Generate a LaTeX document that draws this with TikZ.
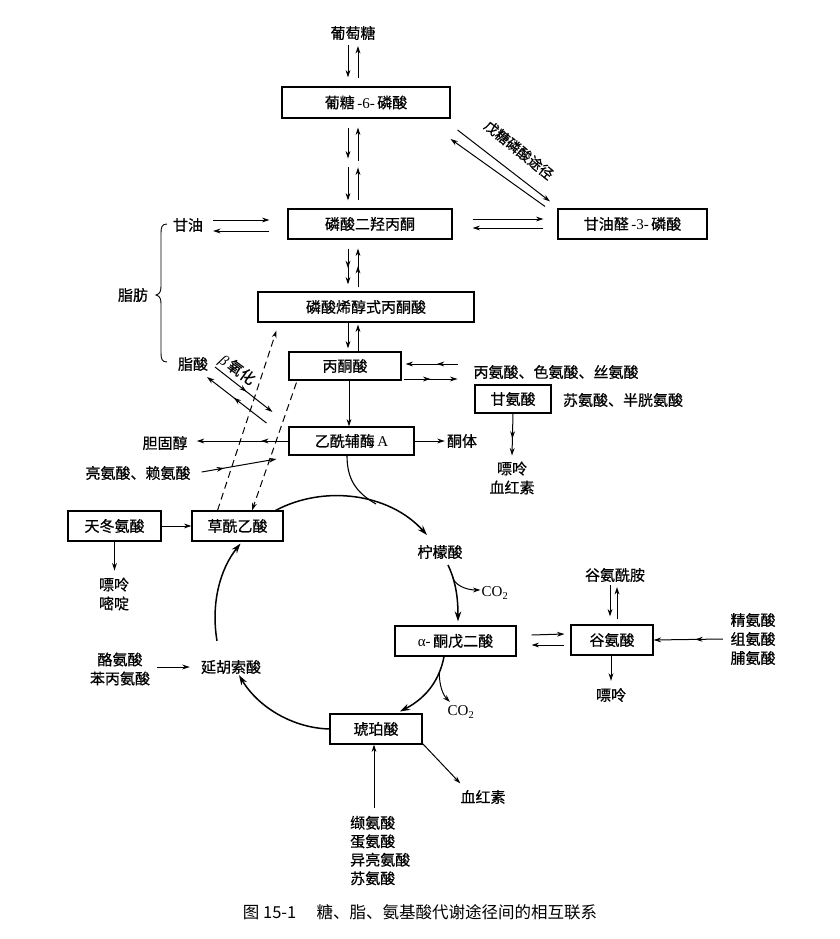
\documentclass[tikz,border=0pt]{standalone}
\usepackage{fontspec}
\setmainfont{Noto Sans CJK SC}[FakeBold=0.6]
\newfontfamily\lat{Liberation Serif}
\newfontfamily\capfont{Noto Sans CJK SC}
\usetikzlibrary{arrows.meta,decorations.markings,calc}
\begin{document}
\begin{tikzpicture}[x=1pt,y=-1pt,
  >={Stealth[length=7.5pt,width=4.8pt]},
  every node/.style={font=\fontsize{15}{19}\selectfont,inner sep=0pt},
  box/.style={draw,line width=1.1pt,minimum height=30pt,inner sep=0pt},
  conn/.style={line width=1pt,->},
  twohead/.style={conn,postaction={decorate},
    decoration={markings,mark=at position #1 with {\arrow{>}}}},
  twohead/.default=0.55,
  cyc/.style={line width=1.5pt,->,>={Stealth[length=10pt,width=6.5pt]}},
  dashline/.style={line width=1pt,->,dash pattern=on 7pt off 4.5pt}]

\fill[white] (0,0) rectangle (840,939);
\useasboundingbox (0,0) rectangle (840,939);

% ---- boxed metabolites
\node[box,minimum width=168pt,minimum height=31pt] (g6p) at (366,102.5) {葡糖\,{\lat -6-}\,磷酸};
\node[box,minimum width=164pt] (dhap) at (370,224) {磷酸二羟丙酮};
\node[box,minimum width=149pt] (gap) at (632.5,224) {甘油醛\,{\lat -3-}\,磷酸};
\node[box,minimum width=216pt] (pep) at (366,307) {磷酸烯醇式丙酮酸};
\node[box,minimum width=112pt,minimum height=28pt] (pyr) at (345,366) {丙酮酸};
\node[box,minimum width=76pt,minimum height=28pt] (gly) at (513,399) {甘氨酸};
\node[box,minimum width=125pt,minimum height=28pt] (acoa) at (351.5,441) {乙酰辅酶\,{\lat A}};
\node[box,minimum width=93pt] (asp) at (114.5,526) {天冬氨酸};
\node[box,minimum width=91pt] (oaa) at (237.5,526) {草酰乙酸};
\node[box,minimum width=121pt] (akg) at (455.5,641) {{\lat α-}\,酮戊二酸};
\node[box,minimum width=82pt] (glu) at (612,640) {谷氨酸};
\node[box,minimum width=92pt] (suc) at (376,729) {琥珀酸};

% ---- free labels
\node (glc) at (353,33) {葡萄糖};
\node (glyc) at (188,225) {甘油};
\node (fat) at (133,295) {脂肪};
\node (fa) at (193,364) {脂酸};
\node (chol) at (165,443) {胆固醇};
\node (leu) at (138,473) {亮氨酸、赖氨酸};
\node (ket) at (462,441) {酮体};
\node (aa1) at (556,372) {丙氨酸、色氨酸、丝氨酸};
\node (aa2) at (623,400) {苏氨酸、半胱氨酸};
\node[align=center] (pur1) at (512,478) {嘌呤\\血红素};
\node[align=center] (pur2) at (114,594) {嘌呤\\嘧啶};
\node (cit) at (440,552) {柠檬酸};
\node (co2a) at (495,593) {\lat CO\textsubscript{2}};
\node (co2b) at (461,712) {\lat CO\textsubscript{2}};
\node (gln) at (615,575) {谷氨酰胺};
\node[align=center] (aa3) at (753,639) {精氨酸\\组氨酸\\脯氨酸};
\node (pur3) at (611,695) {嘌呤};
\node (fum) at (231,667) {延胡索酸};
\node[align=center] (tyr) at (120,669) {酪氨酸\\苯丙氨酸};
\node (heme) at (483,797) {血红素};
\node[align=left,anchor=west,font=\fontsize{15}{18.5}\selectfont] (aa4) at (350,850.5) {缬氨酸\\蛋氨酸\\异亮氨酸\\苏氨酸};
\node[rotate=-39,font=\fontsize{14}{16}\selectfont] (ppp) at (519,150) {戊糖磷酸途径};
\node[rotate=-36] (boxid) at (237,370) {{\lat\itshape β}\,氧化};
\node[font=\capfont\fontsize{16.5}{19}\selectfont] (cap) at (420,912) {图 15-1\quad\ 糖、脂、氨基酸代谢途径间的相互联系};

% ---- brace grouping glycerol and fatty acid under fat
\draw[line width=0.9pt] (167,224) .. controls (162,224) and (161,227) .. (161,233)
  -- (161,286) .. controls (161,291) and (160,294) .. (156,295)
  .. controls (160,296) and (161,299) .. (161,304)
  -- (161,353) .. controls (161,359) and (162,362) .. (167,362);

% ---- glycolysis column
\draw[conn] ($(glc)+(-5,12)$) -- ($(g6p.north)+(-18,-9)$);
\draw[conn] ($(g6p.north)+(-8,-8)$) -- ($(glc)+(5,13)$);
\draw[conn] ($(g6p.south)+(-18,9)$) -- ($(g6p.south)+(-18,40)$);
\draw[conn] ($(g6p.south)+(-8,42)$) -- ($(g6p.south)+(-8,9)$);
\draw[conn] ($(dhap.north)+(-22,-41)$) -- ($(dhap.north)+(-22,-8)$);
\draw[conn] ($(dhap.north)+(-12,-8)$) -- ($(dhap.north)+(-12,-41)$);
\draw[twohead] ($(dhap.south)+(-22,9)$) -- ($(pep.north)+(-18,-7)$);
\draw[twohead] ($(pep.north)+(-8,-4)$) -- ($(dhap.south)+(-12,9)$);
\draw[conn] ($(pep.south)+(-18,0)$) -- ($(pyr.north)+(3,-3)$);
\draw[conn] ($(pyr.north)+(13,0)$) -- ($(pep.south)+(-8,2)$);
\draw[conn] ($(pyr.south)+(4,0)$) -- ($(acoa.north)+(-2.5,0)$);

% ---- pentose phosphate pathway
\draw[conn] ($(g6p.east)+(7,27.5)$) -- ($(gap.north)+(-82.5,-7)$);
\draw[conn] ($(gap.north)+(-87.5,-2)$) -- ($(g6p.east)+(0,36.5)$);

% ---- triose phosphates and glycerol
\draw[conn] ($(dhap.east)+(20,-5)$) -- ($(gap.west)+(-14,-5)$);
\draw[conn] ($(gap.west)+(-14,4)$) -- ($(dhap.east)+(20,4)$);
\draw[conn] ($(glyc)+(25,-5)$) -- ($(dhap.west)+(-18,-4)$);
\draw[conn] ($(dhap.west)+(-18,7)$) -- ($(glyc)+(25,6)$);

% ---- amino acids around pyruvate
\draw[twohead=0.4] ($(pyr.east)+(56,-2)$) -- ($(pyr.east)+(4,-2)$);
\draw[twohead=0.5] ($(pyr.east)+(2,13)$) -- ($(pyr.east)+(56,13)$);
\draw[twohead=0.6] (gly.south) -- ($(gly.south)+(-1,42)$);

% ---- acetyl-CoA branches
\draw[conn] (acoa.east) -- ($(ket.west)+(-2,0)$);
\draw[twohead=0.3] (acoa.west) -- ($(chol.east)+(9,-2)$);
\draw[twohead=0.3] ($(leu.east)+(11,-1)$) -- ($(acoa.west)+(-12,18)$);
\draw[twohead=0.55] ($(fa)+(22,3)$) -- ($(acoa.west)+(-16,-29)$);
\draw[twohead=0.55] ($(acoa.west)+(-22,-18)$) -- ($(fa)+(14,13)$);

% ---- gluconeogenic links (dashed)
\draw[dashline] ($(oaa.north)+(-20,0)$) -- ($(pep.south west)+(19,8)$);
\draw[dashline] ($(pyr.south west)+(8,2)$) -- ($(oaa.north)+(14.5,0)$);

% ---- aspartate
\draw[conn] (asp.east) -- (oaa.west);
\draw[conn] (asp.south) -- ($(asp.south)+(0,29)$);

% ---- citric acid cycle
\draw[cyc] ($(oaa.north east)+(-8,0)$) .. controls (324,484.7) and (389,493) .. ($(cit)+(-13,-17)$);
\draw[line width=1.1pt] ($(acoa.south)+(-4.5,0)$) .. controls (347,478) and (355,492) .. (376,504);
\draw[cyc] ($(cit)+(8,13)$) .. controls (455,580) and (458,595) .. ($(akg.north)+(2.5,-4)$)
  coordinate[pos=0.25] (citbr);
\draw[conn] (citbr) .. controls (454,585) and (466,590) .. ($(co2a.west)+(-1,-3)$);
\draw[cyc] ($(akg.south)+(-11.5,0)$) .. controls (440,678) and (428,697) .. ($(suc.north)+(24,-2)$)
  coordinate[pos=0.25] (akgbr);
\draw[conn] (akgbr) .. controls (439,685) and (443,695) .. ($(co2b)+(-11,-10)$);
\draw[cyc] (suc.west) .. controls (293,728) and (258.5,707.5) .. ($(fum.south)+(8,1)$);
\draw[cyc] ($(fum.north)+(-14,-19)$) .. controls (210.9,604.3) and (219.5,569.9) .. ($(oaa.south)+(3,2)$);

% ---- glutamate
\draw[conn] ($(akg.east)+(15,-6)$) -- ($(glu.west)+(-6,-6)$);
\draw[conn] ($(glu.west)+(-6,5)$) -- ($(akg.east)+(15,4)$);
\draw[conn] ($(gln)+(-5,10)$) -- ($(glu.north)+(-2,-8)$);
\draw[conn] ($(glu.north)+(5,-5)$) -- ($(gln)+(2,12)$);
\draw[twohead=0.4] ($(aa3.west)+(-7.5,0)$) -- (glu.east);
\draw[conn] ($(glu.south)+(-1,0)$) -- ($(pur3.north)+(0,-7)$);

% ---- succinate and fumarate feeders
\draw[conn] ($(suc.south east)+(0,-1)$) -- ($(heme.north west)+(0,-6.5)$);
\draw[conn] ($(suc.south)+(-2,63)$) -- ($(suc.south)+(-2,0)$);
\draw[conn] ($(tyr.east)+(7,-2)$) -- ($(fum.west)+(-11,0)$);

\end{tikzpicture}
\end{document}
